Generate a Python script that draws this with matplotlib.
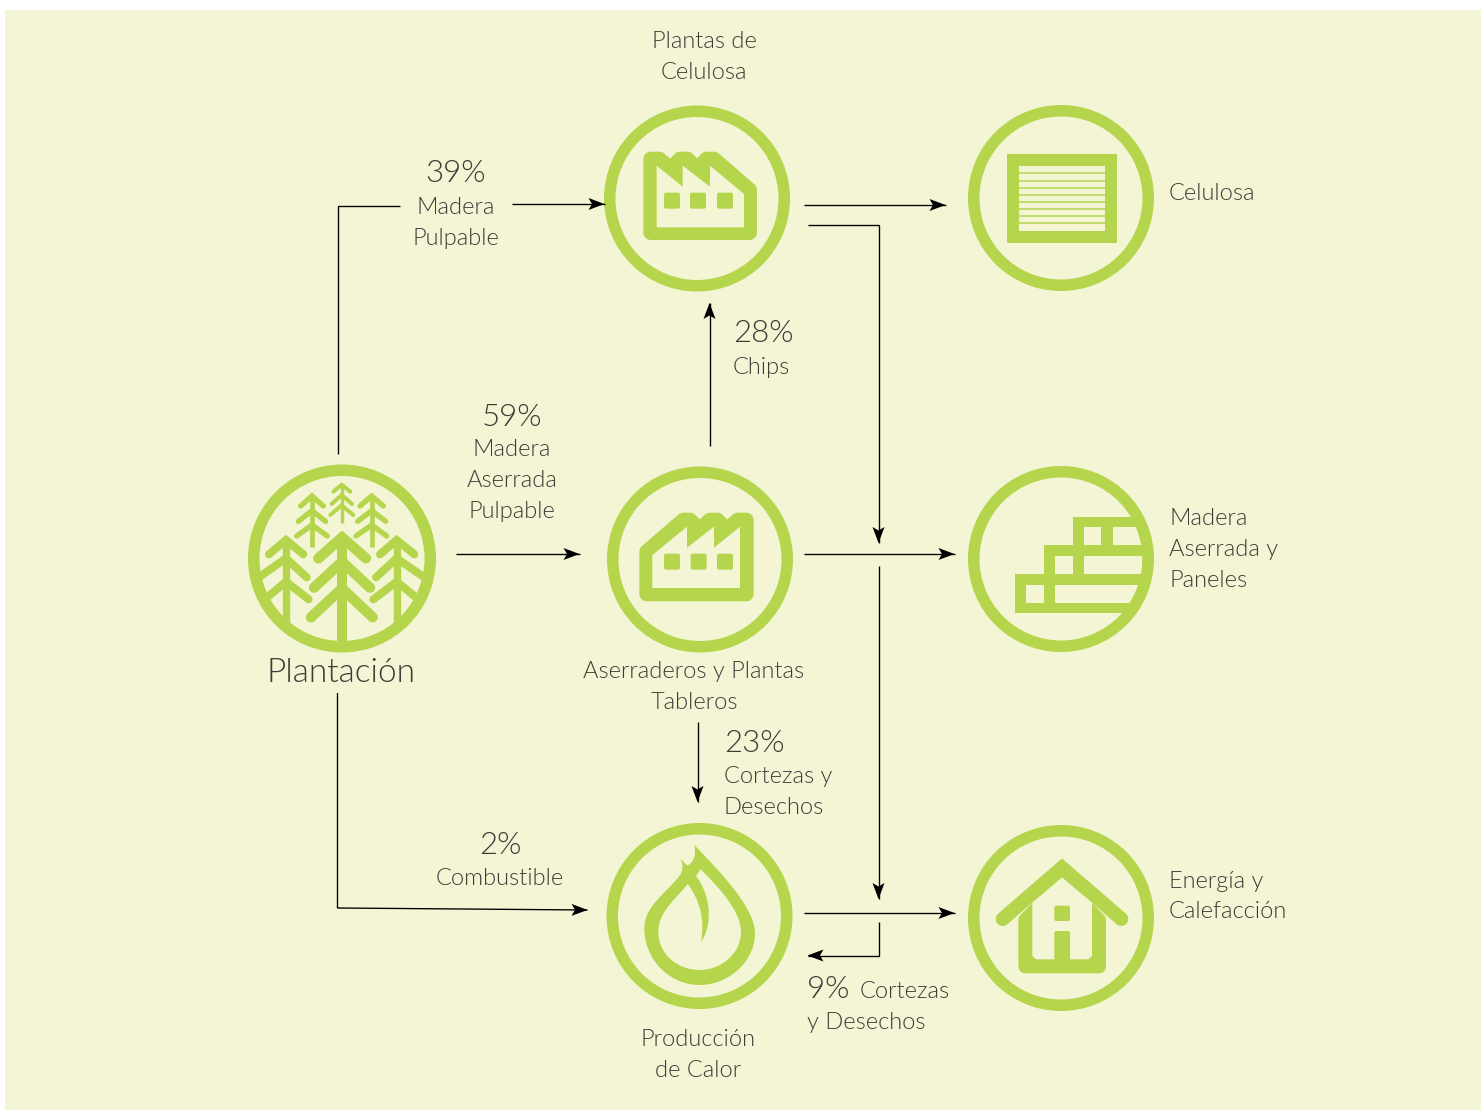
import matplotlib
matplotlib.use("Agg")
import matplotlib.pyplot as plt
from matplotlib import font_manager as fm
from matplotlib.patches import Circle, Polygon, Rectangle, FancyBboxPatch, PathPatch
from matplotlib.path import Path
import numpy as np
import os

CREAM = "#F3F5D4"
GREEN = "#B5D54C"
INK = "#3C3C38"

# (text, x, y, ha)
LABELS = [
    ("Plantas de", 704, 40, "center"), ("Celulosa", 704, 71, "center"),
    ("Madera", 456, 206, "center"), ("Pulpable", 456, 237, "center"),
    ("Celulosa", 1169, 192, "left"),
    ("Chips", 733, 366, "left"),
    ("Madera", 512, 448, "center"), ("Aserrada", 512, 479, "center"), ("Pulpable", 512, 510, "center"),
    ("Madera", 1169, 517, "left"), ("Aserrada y", 1169, 548, "left"), ("Paneles", 1169, 579, "left"),
    ("Aserraderos y Plantas", 694, 670, "center"), ("Tableros", 694, 701, "center"),
    ("Cortezas y", 724, 775, "left"), ("Desechos", 724, 806, "left"),
    ("Combustible", 500, 877, "center"),
    ("Energía y", 1169, 880, "left"), ("Calefacción", 1169, 910, "left"),
    ("Cortezas", 860, 990, "left"), ("y Desechos", 807, 1021, "left"),
    ("Producción", 698, 1038, "center"), ("de Calor", 698, 1069, "center"),
]
PERCENTS = [
    ("39%", 456, 172, "center"), ("28%", 733, 332, "left"), ("59%", 512, 415, "center"),
    ("23%", 724, 742, "left"), ("2%", 500, 843, "center"), ("9%", 807, 987, "left"),
]
TITLE = ("Plantación", 341, 671, "center")

# (polyline, ends with an arrow head)
FLOWS = [
    ([(338, 454), (338, 206), (400, 206)], False),
    ([(512, 204), (605, 204)], True),
    ([(338, 693), (338, 908), (588, 910)], True),
    ([(456, 554), (580, 554)], True),
    ([(710, 446), (710, 303)], True),
    ([(698, 722), (698, 802)], True),
    ([(804, 205), (946, 205)], True),
    ([(808, 225), (879, 225), (879, 543)], True),
    ([(804, 554), (955, 554)], True),
    ([(879, 566), (879, 899)], True),
    ([(804, 913), (955, 913)], True),
    ([(879, 922), (879, 955.5), (808, 955.5)], True),
]

RINGS = {
    "forest": (342, 558.5, 94),
    "pulp": (697, 198.5, 93),
    "saw": (700, 559.5, 93),
    "flame": (699.5, 916, 93),
    "sheet": (1061, 198, 93),
    "boards": (1061, 559, 93),
    "house": (1061, 918, 93),
}

fig = plt.figure(figsize=(14.81, 11.11), dpi=100, facecolor="white")
ax = fig.add_axes([0, 0, 1, 1])
ax.set_xlim(0, 1481)
ax.set_ylim(1111, 0)
ax.axis("off")
PX = 72 / 100

ax.add_patch(Rectangle((5, 10), 1476, 1100, fc=CREAM, ec="none", zorder=0))


def zp(org, pts):
    return [(org[0] + x / 3, org[1] + y / 3) for x, y in pts]


def fill(pts, color=GREEN, z=3, clip=None, lw=0, join="round"):
    p = Polygon(pts, closed=True, fc=color, ec=color if lw else "none",
                lw=lw * PX, joinstyle=join, zorder=z)
    ax.add_patch(p)
    if clip is not None:
        p.set_clip_path(clip)
    return p


def rrect(org, x0, y0, x1, y1, r=6, color=GREEN, z=5):
    o0 = org[0] + x0 / 3
    o1 = org[1] + y0 / 3
    w = (x1 - x0) / 3
    h = (y1 - y0) / 3
    ax.add_patch(FancyBboxPatch((o0 + r / 3, o1 + r / 3), w - 2 * r / 3, h - 2 * r / 3,
                                boxstyle=f"round,pad={r/3},rounding_size={r/3}",
                                fc=color, ec="none", zorder=z))


def ring(key, z=6):
    cx, cy, r = RINGS[key]
    ax.add_patch(Circle((cx, cy), r - 5.75, fc="none", ec=GREEN, lw=11.5 * PX, zorder=z))


def clip_circle(key, shrink=0):
    cx, cy, r = RINGS[key]
    return Circle((cx, cy), r - shrink, transform=ax.transData)


# ---------- forest ----------
org = (240, 460)
clip = clip_circle("forest", 3)


def tree(x, top, bottom, trunk, lw, chevrons):
    a = zp(org, [(x, top), (x, bottom)])
    l, = ax.plot(*zip(*a), color=GREEN, lw=trunk / 3 * PX, solid_capstyle="butt", zorder=3)
    l.set_clip_path(clip)
    for (ay, lx, ly, rx, ry) in chevrons:
        c = zp(org, [(lx, ly), (x, ay), (rx, ry)])
        l, = ax.plot(*zip(*c), color=GREEN, lw=lw / 3 * PX, solid_capstyle="round",
                     solid_joinstyle="miter", zorder=3)
        l.set_clip_path(clip)


tree(306, 225, 555, 30, 31, [(232, 235, 295, 378, 295), (305, 222, 383, 390, 383), (385, 213, 472, 398, 472)])
tree(138, 235, 490, 22, 24, [(240, 87, 283, 190, 283), (295, 45, 360, 200, 352), (365, 60, 430, 206, 418)])
tree(470, 235, 490, 22, 24, [(240, 420, 283, 523, 283), (295, 408, 352, 565, 360), (365, 400, 418, 550, 430)])
tree(216, 105, 262, 14, 16, [(108, 182, 138, 250, 138), (152, 175, 184, 257, 184), (195, 170, 228, 262, 228)])
tree(395, 105, 262, 14, 16, [(108, 360, 138, 430, 138), (152, 353, 184, 437, 184), (195, 348, 228, 440, 228)])
tree(305, 72, 190, 10, 12, [(74, 280, 95, 331, 95), (105, 275, 132, 336, 132), (136, 271, 165, 340, 165)])
ring("forest")


# ---------- factories ----------
def factory(org, outer, inner, windows):
    fill(zp(org, outer), lw=44 / 3, z=3)
    fill(zp(org, inner), color=CREAM, z=4, join="miter")
    for x0, y0, x1, y1 in windows:
        rrect(org, x0, y0, x1, y1, r=6)


org = (600, 100)
factory(org,
        [(152, 177), (178, 177), (212, 207), (240, 177), (262, 177), (292, 207), (320, 177), (342, 177),
         (449, 270), (449, 398), (152, 398)],
        [(170, 197), (248, 260), (248, 197), (330, 260), (330, 197), (432, 282), (432, 382), (170, 382)],
        [(192, 278, 240, 326), (270, 278, 318, 326), (351, 278, 399, 326)])
ring("pulp")

org = (600, 460)
factory(org,
        [(439, 180), (413, 180), (380, 208), (352, 180), (330, 180), (298, 208), (270, 180), (250, 180),
         (140, 275), (140, 402), (439, 402)],
        [(420, 200), (342, 263), (342, 200), (261, 263), (261, 200), (157, 285), (157, 384), (420, 384)],
        [(192, 281, 240, 329), (272, 281, 320, 329), (351, 281, 399, 329)])
ring("saw")

# ---------- flame ----------
org = (600, 820)
M, L, C = Path.MOVETO, Path.LINETO, Path.CURVE4


def bez(org, start, segs, color, z):
    verts = [start]
    codes = [M]
    for s in segs:
        if len(s) == 1:
            verts += s
            codes += [L]
        else:
            verts += s
            codes += [C, C, C]
    verts.append(start)
    codes.append(Path.CLOSEPOLY)
    ax.add_patch(PathPatch(Path(zp(org, verts), codes), fc=color, ec="none", zorder=z))


bez(org, (283, 75), [
    [(350, 145), (465, 260), (465, 340)],
    [(465, 425), (385, 495), (298, 495)],
    [(210, 495), (133, 420), (133, 325)],
    [(133, 255), (205, 215), (240, 165)],
    [(250, 150), (250, 130), (240, 115)],
    [(262, 137)],
    [(285, 125), (288, 100), (283, 75)],
], GREEN, 3)
bez(org, (263, 192), [
    [(225, 240), (175, 275), (175, 335)],
    [(175, 405), (235, 450), (298, 450)],
    [(365, 450), (423, 400), (423, 335)],
    [(423, 270), (345, 190), (302, 148)],
    [(288, 168)],
    [(325, 215), (345, 300), (303, 367)],
    [(315, 300), (300, 240), (263, 192)],
], CREAM, 4)
ring("flame")

# ---------- pulp sheet ----------
org = (960, 100)
ox, oy = org
ax.add_patch(Rectangle((ox + 140 / 3, oy + 162 / 3), 330 / 3, 266 / 3, fc=GREEN, ec="none", zorder=3))
ax.add_patch(Rectangle((ox + 176 / 3, oy + 198 / 3), 258 / 3, 194 / 3, fc=CREAM, ec="none", zorder=4))
for y in (220, 242, 263, 284, 305, 326, 347, 368):
    ax.plot([ox + 176 / 3, ox + 434 / 3], [oy + y / 3] * 2, color=GREEN, lw=1.5 * PX,
            solid_capstyle="butt", zorder=5)
ring("sheet")

# ---------- boards ----------
org = (960, 460)
clipo = clip_circle("boards", 2)
clipi = clip_circle("boards", 11.5)
fill(zp(org, [(165, 342), (252, 342), (252, 256), (338, 256), (338, 170), (620, 170), (620, 460), (165, 460)]),
     clip=clipo, z=3)
for x0, y0, x1, y1 in [(198, 374, 252, 428), (286, 374, 620, 428), (285, 288, 338, 342), (372, 288, 620, 342),
                       (371, 202, 424, 256), (458, 202, 620, 256)]:
    p = fill(zp(org, [(x0, y0), (x1, y0), (x1, y1), (x0, y1)]), color=CREAM, z=4, clip=clipi)
ring("boards")

# ---------- house ----------
org = (960, 820)
fill(zp(org, [(196, 300), (306, 190), (417, 300), (417, 439), (196, 439)]), lw=42 / 3, z=3)
roof = zp(org, [(128, 297), (306, 143), (484, 297)])
ax.plot(*zip(*roof), color=GREEN, lw=42 / 3 * PX, solid_capstyle="round", solid_joinstyle="miter", zorder=3)
fill(zp(org, [(217, 248), (306, 172), (396, 248), (396, 408), (385, 418), (228, 418), (217, 408)]),
     color=CREAM, z=4, join="miter")
rrect(org, 283, 257, 330, 303, r=6)
rrect(org, 283, 333, 330, 430, r=6)
ring("house")


# ---------- flows ----------
def head(p0, p1):
    p0, p1 = np.array(p0, float), np.array(p1, float)
    d = (p1 - p0) / np.hypot(*(p1 - p0))
    n = np.array([-d[1], d[0]])
    L_, W, N = 16.0, 6.0, 12.5
    pts = [p1, p1 - L_ * d + W * n, p1 - N * d, p1 - L_ * d - W * n]
    ax.add_patch(Polygon(pts, closed=True, fc="black", ec="none", zorder=8))


for line, arrow in FLOWS:
    xs = [p[0] - 0.5 for p in line]
    ys = [p[1] for p in line]
    ax.plot(xs, ys, color="black", lw=1.35 * PX, solid_capstyle="butt", solid_joinstyle="miter", zorder=7)
    if arrow:
        head((xs[-2], ys[-2]), (xs[-1], ys[-1]))


# ---------- text ----------
def light_font(size):
    for f in fm.fontManager.ttflist:
        base = os.path.basename(f.fname).lower()
        if f.name == "Lato" and base in ("lato-light.ttf", "lato-light.otf"):
            return fm.FontProperties(fname=f.fname, size=size)
    return fm.FontProperties(family="Lato", weight="normal", size=size)


for t, x, y, ha in LABELS:
    ax.text(x, y + 1.5, t, ha=ha, va="center", fontproperties=light_font(17), color=INK, zorder=9)
for t, x, y, ha in PERCENTS:
    ax.text(x, y + 2, t, ha=ha, va="center", fontproperties=light_font(22.5), color=INK, zorder=9)
ax.text(TITLE[1], TITLE[2] + 1.5, TITLE[0], ha=TITLE[3], va="center", fontproperties=light_font(24),
        color=INK, zorder=9)

fig.savefig("out.png", dpi=100, facecolor="white")
